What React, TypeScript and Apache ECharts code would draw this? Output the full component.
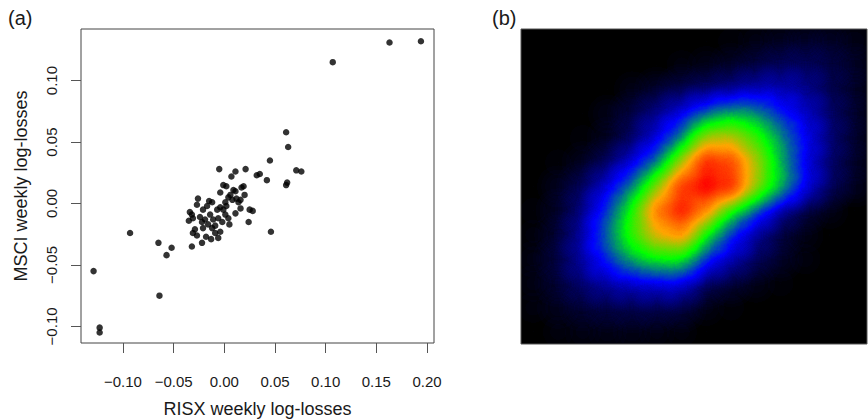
import React, { useEffect, useRef } from 'react';
import * as echarts from 'echarts';

// ---------- panel (a) data ----------
const xTicks = [-0.1, -0.05, 0.0, 0.05, 0.1, 0.15, 0.2];
const yTicks = [-0.1, -0.05, 0.0, 0.05, 0.1];
const xTitle = 'RISX weekly log-losses';
const yTitle = 'MSCI weekly log-losses';

const risx = [
  0.194, 0.163, 0.107, 0.061, 0.063, 0.045, 0.071, 0.076, 0.062, 0.061,
  0.042, 0.035, 0.032, 0.021, 0.011, 0.007, -0.005, 0.019, 0.017, -0.001,
  0.002, 0.009, -0.004, 0.02, 0.025, 0.028, 0.024, 0.046, 0.005, -0.093,
  -0.065, -0.052, -0.057, -0.129, -0.064, -0.123, -0.123, -0.022, -0.032, -0.013,
  -0.015, -0.012, -0.026, -0.027, -0.034, -0.032, -0.035, -0.031, -0.024, -0.022,
  -0.021, -0.029, -0.031, -0.027, -0.017, -0.007, -0.004, -0.001, 0.002, -0.009,
  -0.004, 0.011, 0.004, 0.008, 0.012, 0.016, 0.001, 0.014, 0.006, -0.014,
  -0.011, -0.006, -0.016, -0.012, -0.002, 0.001, 0.004, -0.019, -0.009, 0.011,
  0.016, -0.021, -0.006, -0.018,
];
const msci = [
  0.132, 0.131, 0.115, 0.058, 0.046, 0.035, 0.027, 0.026, 0.017, 0.015,
  0.019, 0.024, 0.023, 0.028, 0.026, 0.022, 0.028, 0.014, 0.013, 0.015,
  0.014, 0.011, 0.009, 0.007, -0.005, -0.006, -0.015, -0.023, -0.017, -0.024,
  -0.032, -0.036, -0.042, -0.055, -0.075, -0.101, -0.105, -0.032, -0.035, -0.029,
  0.002, 0.001, 0.004, -0.001, -0.007, -0.009, -0.014, -0.012, -0.011, -0.015,
  -0.005, -0.021, -0.024, -0.026, -0.002, -0.005, -0.003, -0.005, -0.002, -0.024,
  -0.023, 0.01, 0.005, 0.003, 0.004, 0.003, 0.001, 0.001, 0.007, -0.009,
  -0.013, -0.012, -0.017, -0.02, -0.015, -0.009, -0.012, -0.013, -0.018, -0.008,
  -0.004, -0.02, -0.028, -0.027,
];

// ---------- panel (b) data: density level read on a 14 x 13 grid (top row first) ----------
const HEAT_COLS = 14;
const HEAT_ROWS = 13;
const heatLevels = [
  [0, 0, 0, 0, 0, 0, 0.01, 0.02, 0.03, 0.05, 0.07, 0.08, 0.08, 0.06],
  [0, 0, 0, 0, 0, 0.02, 0.04, 0.06, 0.08, 0.11, 0.14, 0.15, 0.12, 0.08],
  [0, 0, 0, 0.02, 0.05, 0.09, 0.13, 0.16, 0.19, 0.23, 0.24, 0.2, 0.13, 0.08],
  [0, 0, 0.02, 0.06, 0.12, 0.2, 0.28, 0.4, 0.48, 0.45, 0.33, 0.26, 0.16, 0.09],
  [0, 0, 0.03, 0.07, 0.15, 0.27, 0.42, 0.7, 0.72, 0.6, 0.45, 0.3, 0.17, 0.09],
  [0, 0.03, 0.07, 0.15, 0.27, 0.4, 0.68, 0.95, 0.9, 0.7, 0.48, 0.28, 0.16, 0.08],
  [0.02, 0.07, 0.15, 0.27, 0.42, 0.65, 0.92, 1.0, 0.95, 0.68, 0.5, 0.3, 0.15, 0.07],
  [0.03, 0.08, 0.18, 0.36, 0.56, 0.85, 0.97, 0.8, 0.52, 0.38, 0.2, 0.11, 0.05, 0.02],
  [0.04, 0.1, 0.22, 0.42, 0.6, 0.75, 0.82, 0.52, 0.34, 0.2, 0.11, 0.05, 0.02, 0],
  [0.05, 0.12, 0.22, 0.34, 0.48, 0.54, 0.54, 0.33, 0.24, 0.15, 0.08, 0.04, 0.01, 0],
  [0.05, 0.1, 0.17, 0.22, 0.25, 0.27, 0.28, 0.14, 0.1, 0.06, 0.03, 0.01, 0, 0],
  [0.04, 0.07, 0.1, 0.12, 0.13, 0.13, 0.12, 0.05, 0.03, 0.01, 0, 0, 0, 0],
  [0.02, 0.04, 0.05, 0.06, 0.06, 0.05, 0.04, 0.02, 0.01, 0, 0, 0, 0, 0],
];
const heatColors = ['#000000', '#0000ff', '#00ff00', '#ffa500', '#ff0000', '#ff0000', '#ff0000'];

const FONT = "'Liberation Sans', Arial, Helvetica, sans-serif";
const RED_AT = 4 / 6;
const HEAT_GAIN = 1.1;

const fmt = (v: number) => (v < 0 ? '\u2212' : '') + Math.abs(v).toFixed(2);

export default function App() {
  const ref = useRef<HTMLDivElement>(null);
  useEffect(() => {
    if (!ref.current) return;
    echarts.registerMap('densityBox', {
      type: 'FeatureCollection',
      features: [
        {
          type: 'Feature',
          properties: { name: 'box' },
          geometry: {
            type: 'Polygon',
            coordinates: [[[0, 0], [HEAT_COLS, 0], [HEAT_COLS, HEAT_ROWS], [0, HEAT_ROWS], [0, 0]]],
          },
        },
      ],
    } as any);
    const chart = echarts.init(ref.current, null, { renderer: 'svg' });

    const scatterData = risx.map((x, i) => [x, msci[i]]);
    const heatData: number[][] = [];
    heatLevels.forEach((row, j) => {
      row.forEach((lvl, i) => {
        if (lvl <= 0) return;
        const a = Math.min(1, -Math.log(1 - RED_AT * Math.min(lvl, 1)) / HEAT_GAIN);
        heatData.push([i + 0.5, HEAT_ROWS - j - 0.5, a]);
      });
    });

    const axisCommon = {
      type: 'value',
      nameLocation: 'middle',
      nameTextStyle: { fontSize: 18, color: '#1a1a1a', fontFamily: FONT },
      axisLine: { show: false, onZero: false },
      splitLine: { show: false },
    };

    const option: any = {
      animation: false,
      backgroundColor: '#ffffff',
      textStyle: { fontFamily: FONT },
      grid: {
        left: 81,
        top: 29,
        width: 353,
        height: 314,
        show: true,
        borderColor: '#444444',
        borderWidth: 1,
        backgroundColor: 'transparent',
        containLabel: false,
        outerBoundsMode: 'none',
      },
      xAxis: {
        ...axisCommon,
        min: -0.1414,
        max: 0.2069,
        name: xTitle,
        nameGap: 57,
        axisTick: { show: true, length: 10, lineStyle: { color: '#555', width: 1 }, customValues: xTicks },
        axisLabel: { fontSize: 15, color: '#1a1a1a', margin: 31, fontFamily: FONT, customValues: xTicks, formatter: fmt },
      },
      yAxis: {
        ...axisCommon,
        min: -0.1135,
        max: 0.142,
        name: yTitle,
        nameGap: 51,
        axisTick: { show: true, length: 10, lineStyle: { color: '#555', width: 1 }, customValues: yTicks },
        axisLabel: { fontSize: 15, color: '#1a1a1a', margin: 22, rotate: 90, fontFamily: FONT, customValues: yTicks, formatter: fmt },
      },
      geo: {
        map: 'densityBox',
        left: 521,
        top: 29,
        width: 346,
        height: 315,
        roam: false,
        silent: true,
        aspectScale: 1,
        label: { show: false },
        itemStyle: { areaColor: '#000000', borderWidth: 0, borderColor: '#000' },
        emphasis: { disabled: true },
        select: { disabled: true },
        tooltip: { show: false },
      },
      visualMap: {
        type: 'continuous',
        show: false,
        min: 0,
        max: 1,
        seriesIndex: 1,
        inRange: { color: heatColors },
      },
      series: [
        {
          type: 'scatter',
          data: scatterData,
          symbol: 'circle',
          symbolSize: 6.5,
          itemStyle: { color: '#000000' },
          silent: true,
        },
        {
          type: 'heatmap',
          coordinateSystem: 'geo',
          geoIndex: 0,
          data: heatData,
          pointSize: 14,
          blurSize: 24,
          minOpacity: 1,
          maxOpacity: 1,
          silent: true,
        },
      ],
      graphic: [
        { type: 'text', left: 8, top: 8, style: { text: '(a)', fontSize: 20, fontFamily: FONT, fill: '#1a1a1a' } },
        { type: 'text', left: 492, top: 8, style: { text: '(b)', fontSize: 20, fontFamily: FONT, fill: '#1a1a1a' } },
        {
          type: 'rect',
          z: 100,
          shape: { x: 521, y: 29, width: 346, height: 315 },
          style: { fill: 'none', stroke: '#555555', lineWidth: 1 },
          silent: true,
        },
      ],
    };
    chart.setOption(option);
    return () => chart.dispose();
  }, []);
  return (
    <div
      ref={ref}
      style={{ position: 'absolute', left: 0, top: 0, width: 868, height: 420 }}
    />
  );
}
